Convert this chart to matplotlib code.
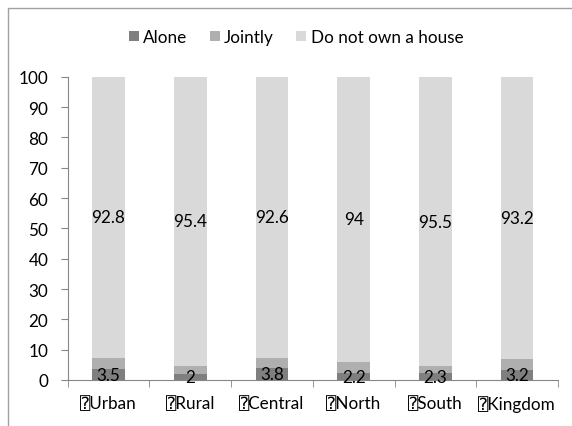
import matplotlib.pyplot as plt
import numpy as np
from matplotlib.patches import Rectangle

regions = ["\u2370Urban", "\u2370Rural", "\u2370Central", "\u2370North", "\u2370South", "\u2370Kingdom"]
alone = [3.5, 2, 3.8, 2.2, 2.3, 3.2]
jointly = [3.7, 2.6, 3.6, 3.8, 2.2, 3.6]
no_house = [92.8, 95.4, 92.6, 94, 95.5, 93.2]

plt.rcParams['font.family'] = ['Lato', 'DejaVu Sans', 'DejaVu Sans Mono']
fs = 12.3

fig = plt.figure(figsize=(5.72, 4.27), dpi=100)
ax = fig.add_axes([67.7 / 572, 1 - 381 / 427, (558 - 67.7) / 572, (381 - 77.7) / 427])

x = np.arange(len(regions))
w = 0.4
b1 = ax.bar(x, alone, w, color="#7f7f7f", label="Alone")
b2 = ax.bar(x, jointly, w, bottom=alone, color="#afafaf", label="Jointly")
base = np.array(alone) + np.array(jointly)
b3 = ax.bar(x, no_house, w, bottom=base, color="#d9d9d9", label="Do not own a house")

ax.bar_label(b1, labels=[f"{v:g}" for v in alone], label_type="center", fontsize=fs)
ax.bar_label(b3, labels=[f"{v:g}" for v in no_house], label_type="center", fontsize=fs)

ax.set_xlim(-0.5, len(regions) - 0.5)
ax.set_ylim(0, 100)
ax.set_yticks(range(0, 101, 10))
ax.set_xticks(x)
ax.set_xticklabels(regions)
ax.set_xticks(np.arange(-0.5, len(regions), 1), minor=True)
ax.tick_params(axis="x", which="major", length=0, pad=11, labelsize=fs)
ax.tick_params(axis="x", which="minor", length=5, color="#868686")
ax.tick_params(axis="y", length=5, color="#868686", labelsize=fs, pad=9)

for s in ["top", "right"]:
    ax.spines[s].set_visible(False)
for s in ["left", "bottom"]:
    ax.spines[s].set_color("#868686")

fig.legend(loc="center", bbox_to_anchor=(296 / 572, 1 - 38 / 427), ncol=3, frameon=False,
           fontsize=fs, handlelength=0.6, handleheight=0.6, handletextpad=0.25, columnspacing=1.3)

fig.patches.append(Rectangle((8 / 572, -0.1), 1.2, 1 - 9 / 427 + 0.1, transform=fig.transFigure,
                             fill=False, edgecolor="#a0a0a0", linewidth=1))

fig.savefig("out.png", dpi=100)
